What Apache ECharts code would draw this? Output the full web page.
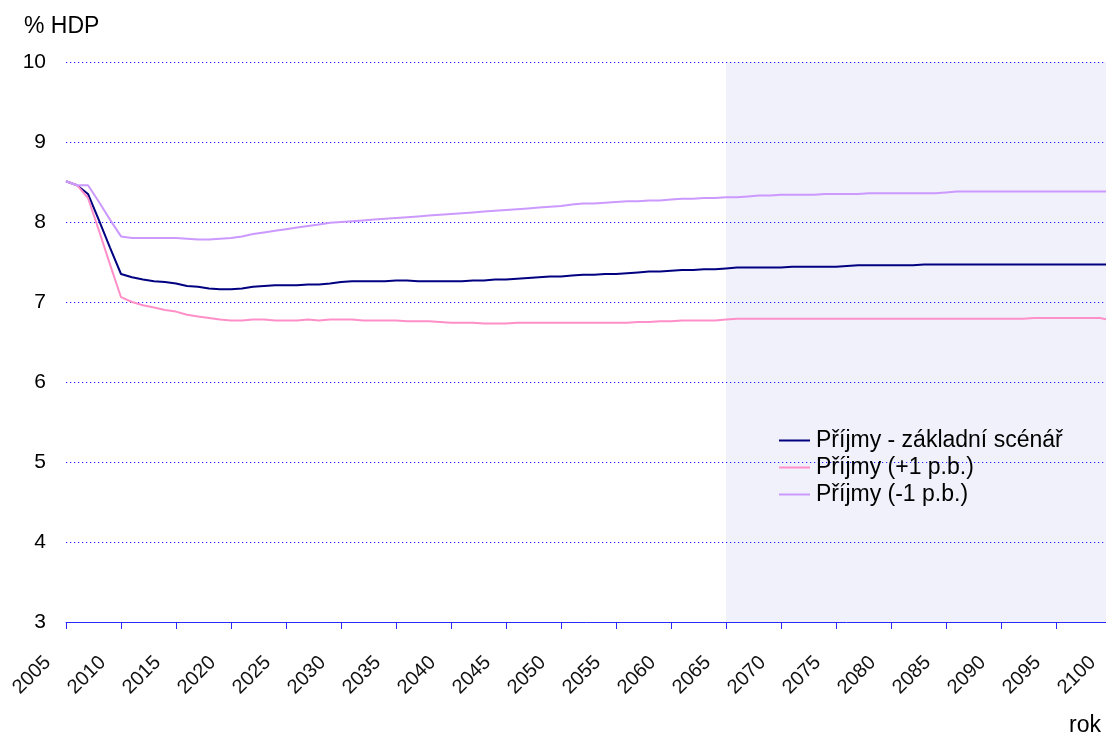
<!DOCTYPE html>
<html>
<head>
<meta charset="utf-8">
<title>Příjmy</title>
<script src="https://cdn.jsdelivr.net/npm/echarts@6/dist/echarts.min.js"></script>
<style>
  html, body { margin: 0; padding: 0; background: #fff; }
  #chart { width: 1106px; height: 738px; }
</style>
</head>
<body>
<div id="chart"></div>
<script>
// Years on the category axis (2005 – 2100)
const years = [];
for (let y = 2005; y <= 2100; y++) years.push(String(y));

// Revenue as % of GDP – baseline scenario
const baseline = [
  8.51, 8.46, 8.35, 8.02, 7.68, 7.35, 7.31, 7.28, 7.26, 7.25,
  7.23, 7.20, 7.19, 7.17, 7.16, 7.16, 7.17, 7.19, 7.20, 7.21,
  7.21, 7.21, 7.22, 7.22, 7.23, 7.25, 7.26, 7.26, 7.26, 7.26,
  7.27, 7.27, 7.26, 7.26, 7.26, 7.26, 7.26, 7.27, 7.27, 7.28,
  7.28, 7.29, 7.30, 7.31, 7.32, 7.32, 7.33, 7.34, 7.34, 7.35,
  7.35, 7.36, 7.37, 7.38, 7.38, 7.39, 7.40, 7.40, 7.41, 7.41,
  7.42, 7.43, 7.43, 7.43, 7.43, 7.43, 7.44, 7.44, 7.44, 7.44,
  7.44, 7.45, 7.46, 7.46, 7.46, 7.46, 7.46, 7.46, 7.47, 7.47,
  7.47, 7.47, 7.47, 7.47, 7.47, 7.47, 7.47, 7.47, 7.47, 7.47,
  7.47, 7.47, 7.47, 7.47, 7.47, 7.47
];

// Revenue as % of GDP – scenario +1 p.p.
const plusOne = [
  8.51, 8.46, 8.30, 7.89, 7.47, 7.06, 7.00, 6.96, 6.93, 6.90,
  6.88, 6.84, 6.82, 6.80, 6.78, 6.77, 6.77, 6.78, 6.78, 6.77,
  6.77, 6.77, 6.78, 6.77, 6.78, 6.78, 6.78, 6.77, 6.77, 6.77,
  6.77, 6.76, 6.76, 6.76, 6.75, 6.74, 6.74, 6.74, 6.73, 6.73,
  6.73, 6.74, 6.74, 6.74, 6.74, 6.74, 6.74, 6.74, 6.74, 6.74,
  6.74, 6.74, 6.75, 6.75, 6.76, 6.76, 6.77, 6.77, 6.77, 6.77,
  6.78, 6.79, 6.79, 6.79, 6.79, 6.79, 6.79, 6.79, 6.79, 6.79,
  6.79, 6.79, 6.79, 6.79, 6.79, 6.79, 6.79, 6.79, 6.79, 6.79,
  6.79, 6.79, 6.79, 6.79, 6.79, 6.79, 6.79, 6.79, 6.80, 6.80,
  6.80, 6.80, 6.80, 6.80, 6.80, 6.77
];

// Revenue as % of GDP – scenario -1 p.p.
const minusOne = [
  8.51, 8.46, 8.46, 8.25, 8.03, 7.82, 7.80, 7.80, 7.80, 7.80,
  7.80, 7.79, 7.78, 7.78, 7.79, 7.80, 7.82, 7.85, 7.87, 7.89,
  7.91, 7.93, 7.95, 7.97, 7.99, 8.00, 8.01, 8.02, 8.03, 8.04,
  8.05, 8.06, 8.07, 8.08, 8.09, 8.10, 8.11, 8.12, 8.13, 8.14,
  8.15, 8.16, 8.17, 8.18, 8.19, 8.20, 8.22, 8.23, 8.23, 8.24,
  8.25, 8.26, 8.26, 8.27, 8.27, 8.28, 8.29, 8.29, 8.30, 8.30,
  8.31, 8.31, 8.32, 8.33, 8.33, 8.34, 8.34, 8.34, 8.34, 8.35,
  8.35, 8.35, 8.35, 8.36, 8.36, 8.36, 8.36, 8.36, 8.36, 8.36,
  8.37, 8.38, 8.38, 8.38, 8.38, 8.38, 8.38, 8.38, 8.38, 8.38,
  8.38, 8.38, 8.38, 8.38, 8.38, 8.38
];

const seriesNames = ['Příjmy - základní scénář', 'Příjmy (+1 p.b.)', 'Příjmy (-1 p.b.)'];
const seriesColors = ['#000080', '#ff8fc8', '#cc99ff'];

// Projection period shaded on the plot
const shadeFrom = '2065';
const shadeTo = '2100';

const FONT = '"Liberation Sans", Arial, sans-serif';

const chart = echarts.init(document.getElementById('chart'), null, { renderer: 'canvas' });

function lineSeries(i, data) {
  return {
    name: seriesNames[i],
    type: 'line',
    data: data,
    symbol: 'none',
    smooth: false,
    lineStyle: { color: seriesColors[i], width: 2 },
    itemStyle: { color: seriesColors[i] },
    emphasis: { disabled: true }
  };
}

const s0 = lineSeries(0, baseline);
s0.markArea = {
  silent: true,
  itemStyle: { color: 'rgba(90,90,220,0.085)' },
  data: [[{ xAxis: shadeFrom }, { xAxis: shadeTo }]]
};

chart.setOption({
  animation: false,
  backgroundColor: '#ffffff',
  textStyle: { fontFamily: FONT },
  title: [
    { text: '% HDP', left: 24, top: 15, padding: 0,
      textStyle: { fontSize: 23, fontWeight: 'normal', color: '#000', fontFamily: FONT } },
    { text: 'rok', left: 1069, top: 714, padding: 0,
      textStyle: { fontSize: 23, fontWeight: 'normal', color: '#000', fontFamily: FONT } }
  ],
  grid: { left: 66, right: -5, top: 62, bottom: 116, containLabel: false, outerBoundsMode: 'none' },
  legend: {
    orient: 'vertical',
    left: 779,
    top: 429,
    itemWidth: 31,
    itemHeight: 2,
    itemGap: 4,
    icon: 'rect',
    padding: 0,
    data: seriesNames,
    textStyle: { fontSize: 23, color: '#000', fontFamily: FONT, lineHeight: 23, padding: [0, 0, 0, 1] }
  },
  xAxis: {
    type: 'category',
    data: years,
    boundaryGap: false,
    axisLine: { show: true, lineStyle: { color: '#2a2aff', width: 1 } },
    axisTick: { show: true, interval: 4, length: 7, lineStyle: { color: '#2a2aff' } },
    axisLabel: {
      interval: 4,
      rotate: 45,
      margin: 19,
      padding: [0, 26, 0, 0],
      fontSize: 20,
      color: '#111',
      fontFamily: FONT
    },
    splitLine: { show: false }
  },
  yAxis: {
    type: 'value',
    min: 3,
    max: 10,
    interval: 1,
    axisLine: { show: false },
    axisTick: { show: false },
    axisLabel: { margin: 20, fontSize: 21, color: '#000', fontFamily: FONT },
    splitLine: {
      show: true,
      showMinLine: false,
      lineStyle: { color: '#1a1aff', width: 1.2, type: [1.2, 2.8] }
    }
  },
  series: [s0, lineSeries(1, plusOne), lineSeries(2, minusOne)]
});
</script>
</body>
</html>
